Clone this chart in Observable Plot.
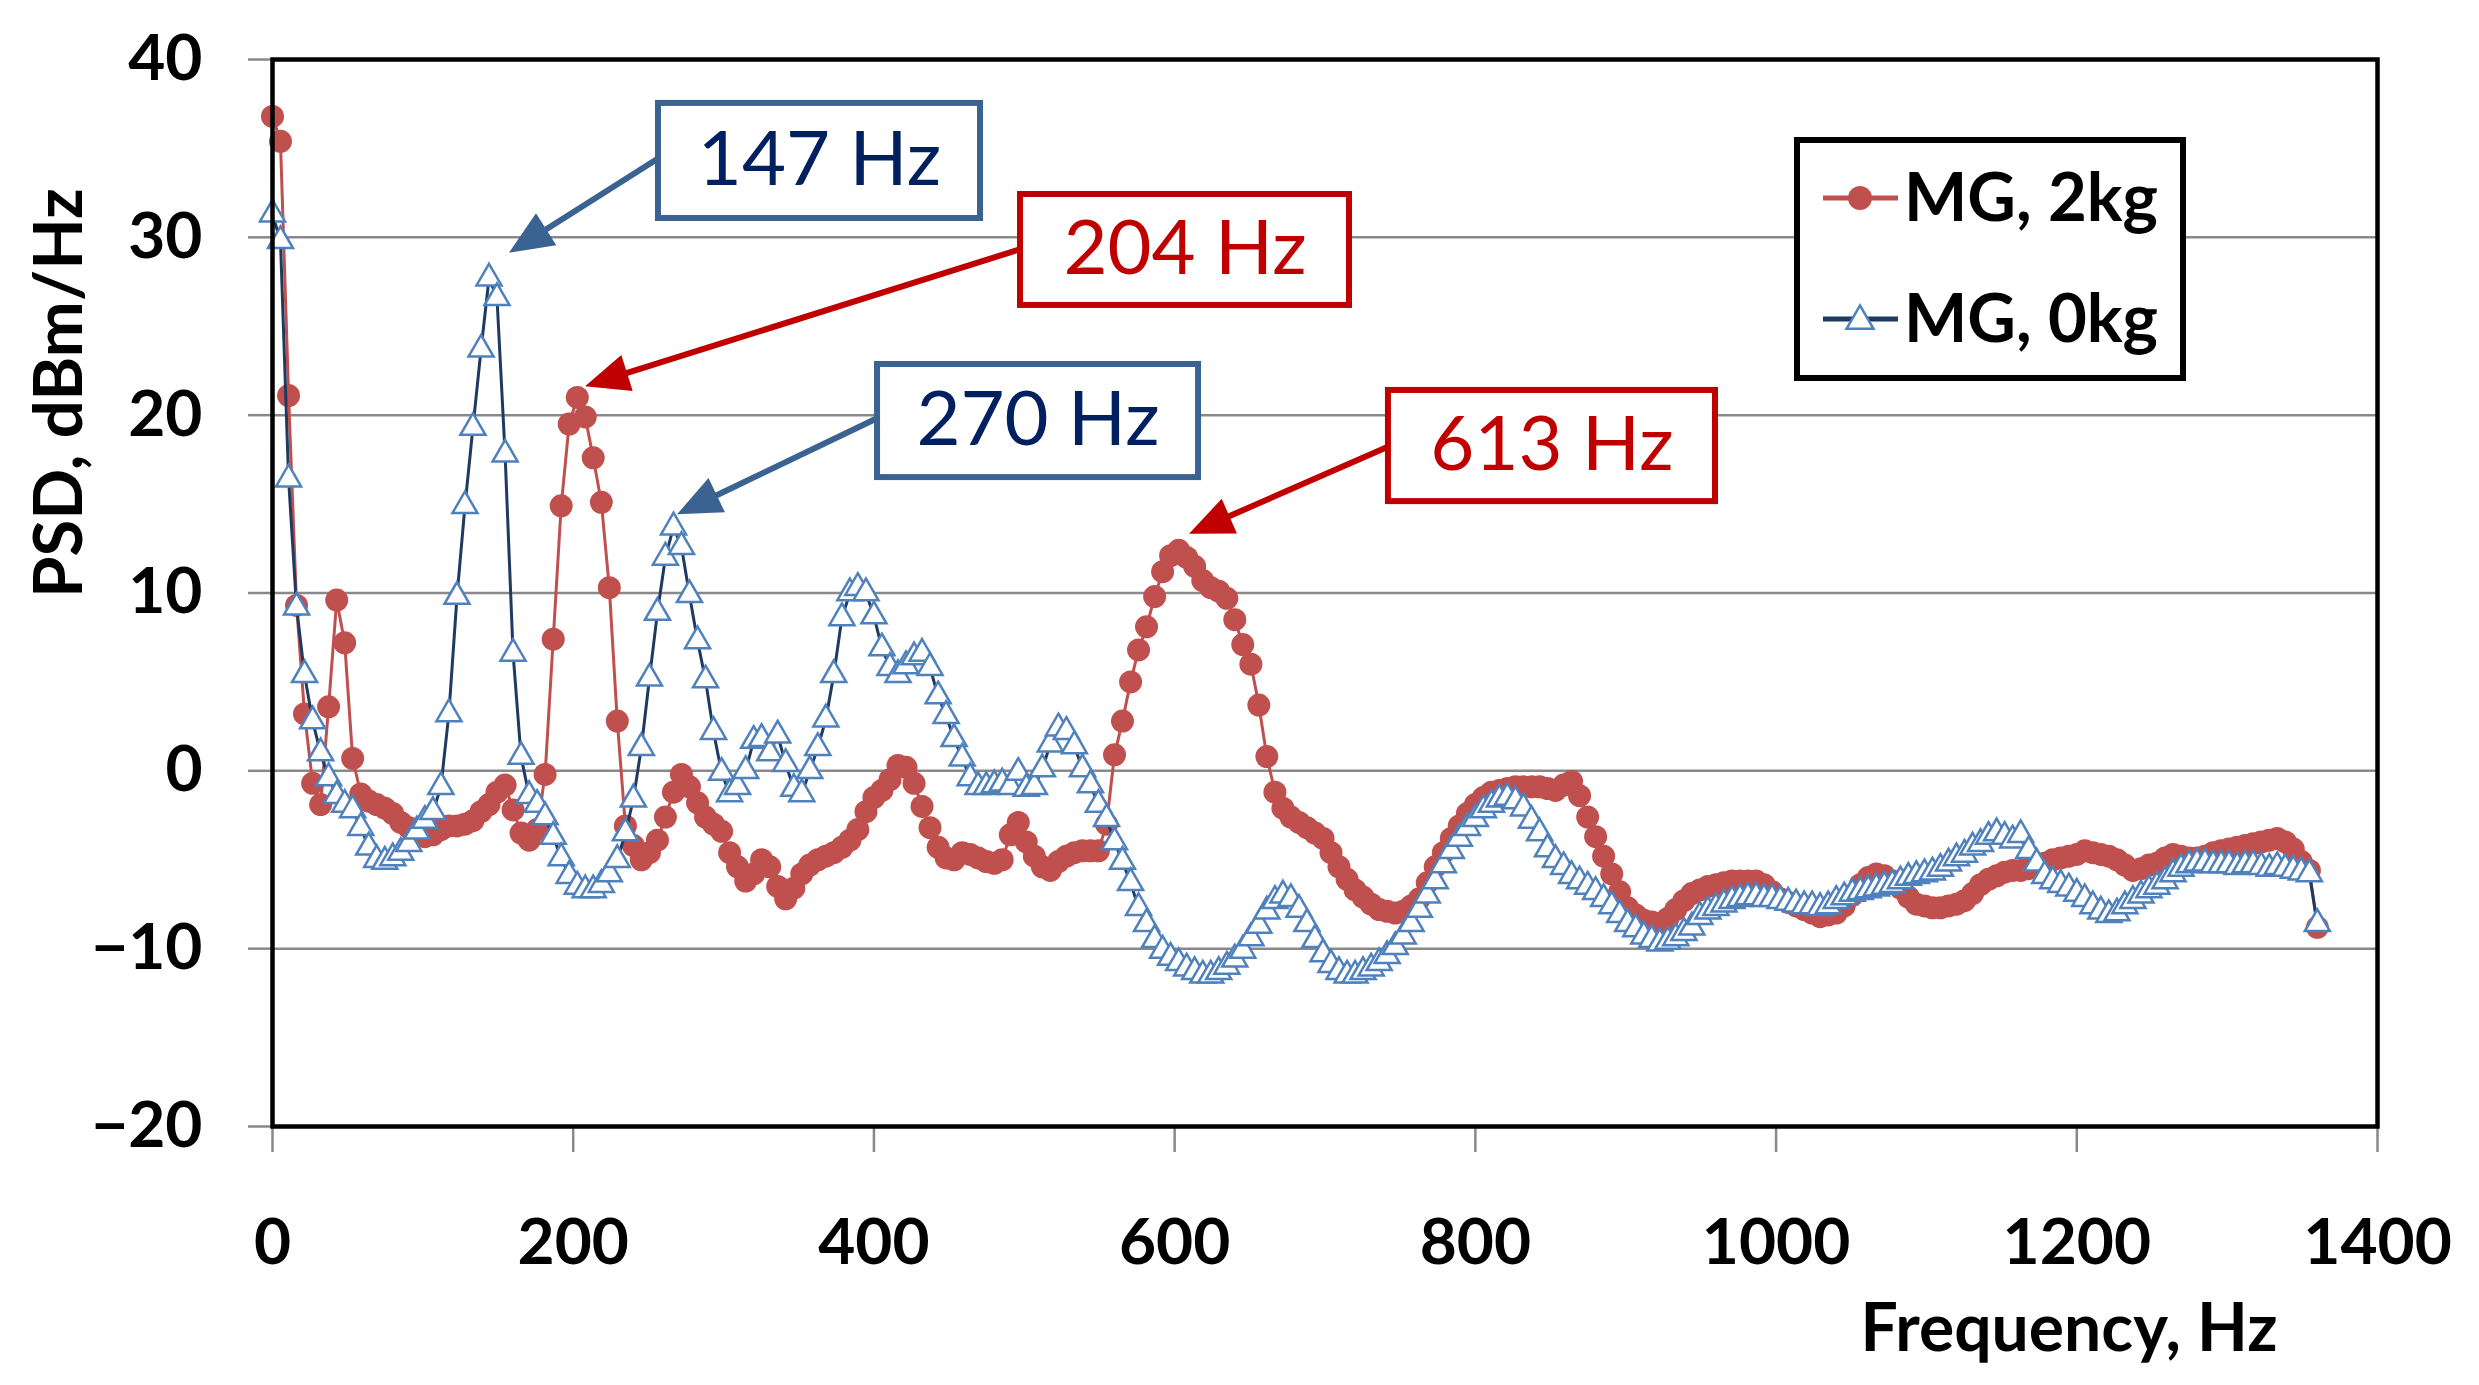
<!DOCTYPE html>
<html>
<head>
<meta charset="utf-8">
<script src="https://cdn.jsdelivr.net/npm/d3@7"></script>
<script src="https://cdn.jsdelivr.net/npm/@observablehq/plot@0.6"></script>
<style>
html, body { margin: 0; padding: 0; background: #fff; }
#wrap { position: relative; width: 2479px; height: 1385px; overflow: hidden; }
#legend { position: absolute; left: 1794px; top: 137px; }
</style>
</head>
<body>
<div id="wrap"></div>
<script>
// ---------------- data ----------------
const freq = [
0,5.3,10.7,16,21.3,26.7,32,37.3,42.7,48,53.3,58.7,64,69.3,74.7,80,85.3,90.7,96,101.3,106.7,
112,117.3,122.7,128,133.3,138.7,144,149.3,154.7,160,165.3,170.7,176,181.3,186.7,192,197.3,202.7,
208,213.3,218.7,224,229.3,234.7,240,245.3,250.7,256,261.3,266.7,272,277.3,282.7,288,293.3,298.7,
304,309.3,314.7,320,325.3,330.7,336,341.3,346.7,352,357.3,362.7,368,373.3,378.7,384,389.3,394.7,
400,405.3,410.7,416,421.3,426.7,432,437.3,442.7,448,453.3,458.7,464,469.3,474.7,480,485.3,490.7,
496,501.3,506.7,512,517.3,522.7,528,533.3,538.7,544,549.3,554.7,560,565.3,570.7,576,581.3,586.7,
592,597.3,602.7,608,613.3,618.7,624,629.3,634.7,640,645.3,650.7,656,661.3,666.7,672,677.3,682.7,
688,693.3,698.7,704,709.3,714.7,720,725.3,730.7,736,741.3,746.7,752,757.3,762.7,768,773.3,778.7,
784,789.3,794.7,800,805.3,810.7,816,821.3,826.7,832,837.3,842.7,848,853.3,858.7,864,869.3,874.7,
880,885.3,890.7,896,901.3,906.7,912,917.3,922.7,928,933.3,938.7,944,949.3,954.7,960,965.3,970.7,
976,981.3,986.7,992,997.3,1002.7,1008,1013.3,1018.7,1024,1029.3,1034.7,1040,1045.3,1050.7,
1056,1061.3,1066.7,1072,1077.3,1082.7,1088,1093.3,1098.7,1104,1109.3,1114.7,1120,1125.3,1130.7,
1136,1141.3,1146.7,1152,1157.3,1162.7,1168,1173.3,1178.7,1184,1189.3,1194.7,1200,1205.3,1210.7,
1216,1221.3,1226.7,1232,1237.3,1242.7,1248,1253.3,1258.7,1264,1269.3,1274.7,1280,1285.3,1290.7,
1296,1301.3,1306.7,1312,1317.3,1322.7,1328,1333.3,1338.7,1344,1349.3,1354.7,1360
];

// MG, 2kg (red dots)
const psd2kg = [
36.8,35.4,21.1,9.3,3.2,-0.7,-1.9,3.6,9.6,7.2,
0.7,-1.3,-1.7,-1.9,-2.1,-2.4,-2.9,-3.2,-3.5,-3.7,
-3.6,-3.3,-3.1,-3.1,-3.0,-2.8,-2.3,-1.9,-1.2,-0.8,
-2.2,-3.5,-3.9,-3.3,-0.2,7.4,14.9,19.5,21.0,19.9,
17.6,15.1,10.3,2.8,-3.1,-4.2,-5.0,-4.6,-3.9,-2.6,
-1.2,-0.2,-0.9,-1.8,-2.6,-3.0,-3.4,-4.6,-5.4,-6.2,
-5.8,-5.0,-5.4,-6.5,-7.2,-6.6,-5.8,-5.3,-5.0,-4.8,
-4.6,-4.3,-3.9,-3.3,-2.3,-1.5,-1.1,-0.5,0.3,0.2,
-0.7,-2.0,-3.2,-4.3,-4.9,-5.0,-4.6,-4.7,-4.9,-5.1,
-5.2,-5.0,-3.6,-2.9,-4.0,-4.8,-5.4,-5.6,-5.1,-4.8,
-4.6,-4.5,-4.5,-4.5,-3.0,0.9,2.8,5.0,6.8,8.1,
9.8,11.2,12.1,12.4,12.0,11.5,10.7,10.3,10.1,9.7,
8.5,7.1,6.0,3.7,0.8,-1.2,-2.1,-2.6,-2.9,-3.2,
-3.5,-3.8,-4.6,-5.4,-6.1,-6.7,-7.1,-7.5,-7.8,-7.9,
-8.0,-7.9,-7.6,-7.2,-6.3,-5.4,-4.6,-3.8,-3.1,-2.4,
-1.9,-1.5,-1.2,-1.1,-1.0,-0.9,-0.9,-0.9,-0.9,-1.0,
-1.1,-0.8,-0.6,-1.4,-2.6,-3.7,-4.8,-5.8,-6.8,-7.7,
-8.1,-8.4,-8.5,-8.6,-8.3,-7.8,-7.3,-6.9,-6.7,-6.5,
-6.4,-6.3,-6.2,-6.2,-6.2,-6.2,-6.4,-6.8,-7.2,-7.4,
-7.6,-7.8,-8.0,-8.2,-8.1,-8.0,-7.6,-7.0,-6.4,-6.0,
-5.8,-5.9,-6.2,-6.6,-7.1,-7.5,-7.6,-7.7,-7.7,-7.6,
-7.5,-7.3,-6.9,-6.4,-6.1,-5.9,-5.7,-5.6,-5.6,-5.5,
-5.3,-5.2,-5.0,-4.9,-4.8,-4.7,-4.5,-4.6,-4.7,-4.8,
-5.0,-5.3,-5.6,-5.5,-5.3,-5.2,-4.9,-4.7,-4.8,-4.9,
-4.9,-4.8,-4.6,-4.5,-4.4,-4.3,-4.2,-4.1,-4.0,-3.9,
-3.8,-4.0,-4.4,-5.1,-5.6,-8.8
];

// MG, 0kg (open triangles)
const psd0kg = [
31.3,29.8,16.4,9.2,5.4,2.8,1.0,-0.4,-1.4,-1.9,
-2.2,-3.2,-4.3,-5.0,-5.1,-4.9,-4.6,-4.1,-3.4,-2.8,
-2.3,-0.9,3.2,9.8,14.9,19.3,23.7,27.7,26.6,17.8,
6.6,0.8,-1.4,-1.9,-2.6,-3.7,-4.9,-5.9,-6.5,-6.7,
-6.7,-6.4,-5.8,-5.0,-3.5,-1.6,1.3,5.2,8.9,12.0,
13.7,12.6,9.9,7.3,5.1,2.2,-0.1,-1.3,-0.9,0.0,
1.7,1.8,1.0,2.0,0.4,-1.0,-1.3,0.0,1.3,2.9,
5.4,8.6,10.0,10.3,10.0,8.7,6.9,5.8,5.4,5.9,
6.4,6.6,5.8,4.2,3.1,1.8,0.7,-0.4,-0.9,-0.9,
-0.8,-0.7,-0.9,-0.1,-1.0,-0.9,0.1,1.5,2.4,2.2,
1.4,0.1,-0.8,-1.9,-2.7,-4.0,-5.1,-6.3,-7.7,-8.6,
-9.5,-10.1,-10.5,-10.8,-11.1,-11.3,-11.5,-11.5,-11.3,-11.0,
-10.6,-10.1,-9.4,-8.7,-7.9,-7.3,-7.0,-7.2,-7.8,-8.6,
-9.5,-10.3,-10.9,-11.3,-11.5,-11.5,-11.3,-11.1,-10.8,-10.4,
-9.9,-9.3,-8.6,-7.8,-7.0,-6.2,-5.3,-4.5,-3.8,-3.2,
-2.7,-2.2,-1.9,-1.6,-1.5,-1.7,-2.1,-2.8,-3.5,-4.4,
-5.0,-5.4,-5.9,-6.2,-6.5,-6.8,-7.2,-7.6,-8.1,-8.6,
-8.9,-9.3,-9.5,-9.7,-9.6,-9.4,-9.1,-8.8,-8.2,-7.9,
-7.7,-7.5,-7.3,-7.2,-7.1,-7.1,-7.2,-7.2,-7.3,-7.4,
-7.5,-7.6,-7.6,-7.7,-7.6,-7.3,-7.1,-6.9,-6.8,-6.7,
-6.6,-6.5,-6.4,-6.2,-6.0,-5.9,-5.8,-5.7,-5.5,-5.2,
-4.9,-4.7,-4.3,-4.1,-3.7,-3.5,-3.7,-3.9,-3.6,-4.5,
-5.2,-5.9,-6.2,-6.4,-6.6,-6.9,-7.2,-7.6,-7.9,-8.1,
-8.0,-7.6,-7.3,-7.0,-6.7,-6.5,-6.2,-5.8,-5.5,-5.3,
-5.2,-5.2,-5.3,-5.3,-5.3,-5.4,-5.3,-5.3,-5.4,-5.5,
-5.4,-5.5,-5.6,-5.7,-5.8,-8.6
];

const seriesNames = ["MG, 2kg", "MG, 0kg"];
const xTicks = [0, 200, 400, 600, 800, 1000, 1200, 1400];
const yTicks = [-20, -10, 0, 10, 20, 30, 40];
const xTitle = "Frequency, Hz";
const yTitle = "PSD, dBm/Hz";

// peak annotations (data units)
const annoText  = ["147 Hz", "204 Hz", "270 Hz", "613 Hz"];
const annoKind  = ["blue", "red", "blue", "red"];
const annoTipF  = [157.6, 208.2, 269.4, 609.9];
const annoTipV  = [29.1, 21.6, 14.4, 13.3];
const annoFromF = [256.7, 497.5, 402.4, 742.2];
const annoFromV = [34.4, 29.3, 19.8, 18.2];
const annoBoxF1 = [256.7, 497.5, 402.4, 742.2];
const annoBoxF2 = [470.9, 716.3, 615.9, 959.7];
const annoBoxV1 = [31.06, 26.17, 16.49, 15.14];
const annoBoxV2 = [37.53, 32.41, 22.85, 21.39];

// ---------------- styles ----------------
const RED = "#C0504D";
const NAVY = "#1F3A60";
const LBLUE = "#4F81BD";
const GRID = "#898989";
const BOX_BLUE = "#3B6391";
const TXT_BLUE = "#002060";
const BOX_RED = "#C00000";
const FONT = "Lato, 'Open Sans', sans-serif";

const rows2 = freq.map((f, i) => ({f, v: psd2kg[i]}));
const rows0 = freq.map((f, i) => ({f, v: psd0kg[i]}));
const annos = annoText.map((t, i) => ({
  t,
  stroke: annoKind[i] === "red" ? BOX_RED : BOX_BLUE,
  fill: annoKind[i] === "red" ? BOX_RED : TXT_BLUE,
  tipF: annoTipF[i], tipV: annoTipV[i], fromF: annoFromF[i], fromV: annoFromV[i],
  f1: annoBoxF1[i], f2: annoBoxF2[i], v1: annoBoxV1[i], v2: annoBoxV2[i]
}));

const fmt = d => d < 0 ? "\u2212" + Math.abs(d) : String(d);

const plot = Plot.plot({
  width: 2479,
  height: 1385,
  marginLeft: 272,
  marginRight: 102,
  marginTop: 59,
  marginBottom: 259,
  style: {fontFamily: FONT, background: "white", color: "black"},
  color: {type: "identity"},
  x: {domain: [0, 1400], label: null},
  y: {domain: [-20, 40], label: null},
  marks: [
    Plot.gridY(yTicks, {stroke: GRID, strokeOpacity: 1, strokeWidth: 2.5}),
    Plot.axisY({ticks: yTicks, tickSize: 24, tickPadding: 46, stroke: GRID, strokeWidth: 2.5,
      fill: "black", fontSize: 64, fontWeight: "bold", tickFormat: fmt, label: null}),
    Plot.axisX({ticks: xTicks, tickSize: 26, tickPadding: 66, stroke: GRID, strokeWidth: 2.5,
      fill: "black", fontSize: 64, fontWeight: "bold", tickFormat: d => String(d), label: null}),
    Plot.text([xTitle], {text: d => d, frameAnchor: "bottom-right", textAnchor: "end", lineAnchor: "middle",
      dx: -100, dy: 203, fontSize: 66, fontWeight: "bold", fill: "black"}),
    Plot.text([yTitle], {text: d => d, frameAnchor: "left", textAnchor: "middle", lineAnchor: "middle", rotate: -90,
      dx: -212, dy: -200, fontSize: 67, fontWeight: "bold", fill: "black"}),
    // series
    Plot.line(rows2, {x: "f", y: "v", stroke: RED, strokeWidth: 3}),
    Plot.dot(rows2, {x: "f", y: "v", r: 11.5, fill: RED, stroke: null}),
    Plot.line(rows0, {x: "f", y: "v", stroke: NAVY, strokeWidth: 3}),
    Plot.dot(rows0, {x: "f", y: "v", symbol: "triangle", r: 9.3, fill: "white", stroke: LBLUE, strokeWidth: 2.5}),
    Plot.frame({stroke: "black", strokeWidth: 4.5}),
    // annotation boxes
    Plot.rect(annos, {x1: "f1", x2: "f2", y1: "v1", y2: "v2", fill: "white", stroke: d => d.stroke, strokeWidth: 6}),
    Plot.text(annos, {x: d => (d.f1 + d.f2) / 2, y: d => (d.v1 + d.v2) / 2, text: "t",
      fill: d => d.fill, fontSize: 76, fontWeight: "normal"})
  ]
});

document.getElementById("wrap").appendChild(plot);

// arrows (shaft + filled head), positioned through Plot's scales
const sx = plot.scale("x"), sy = plot.scale("y");
const svg = d3.select(plot);
const g = svg.append("g");
annos.forEach(a => {
  const x1 = sx.apply(a.fromF), y1 = sy.apply(a.fromV);
  const x2 = sx.apply(a.tipF), y2 = sy.apply(a.tipV);
  const dx = x2 - x1, dy = y2 - y1, L = Math.hypot(dx, dy);
  const ux = dx / L, uy = dy / L;
  const hl = 44, hw = 19;
  const bx = x2 - ux * hl, by = y2 - uy * hl;
  g.append("line").attr("x1", x1).attr("y1", y1).attr("x2", bx + ux * 4).attr("y2", by + uy * 4)
    .attr("stroke", a.stroke).attr("stroke-width", 6);
  g.append("polygon")
    .attr("points", `${x2},${y2} ${bx - uy * hw},${by + ux * hw} ${bx + uy * hw},${by - ux * hw}`)
    .attr("fill", a.stroke);
});

// legend
const lg = d3.select("#wrap").append("svg").attr("id", "legend")
  .attr("width", 392).attr("height", 244);
lg.append("rect").attr("x", 3).attr("y", 3).attr("width", 386).attr("height", 238)
  .attr("fill", "white").attr("stroke", "black").attr("stroke-width", 6);
const entries = [
  {name: seriesNames[0], y: 61, line: RED, kind: "dot"},
  {name: seriesNames[1], y: 182, line: NAVY, kind: "tri"}
];
entries.forEach(e => {
  lg.append("line").attr("x1", 29).attr("x2", 104).attr("y1", e.y).attr("y2", e.y)
    .attr("stroke", e.line).attr("stroke-width", 5);
  if (e.kind === "dot") {
    lg.append("circle").attr("cx", 66).attr("cy", e.y).attr("r", 12).attr("fill", RED);
  } else {
    lg.append("path").attr("transform", `translate(66,${e.y + 2})`)
      .attr("d", d3.symbol(d3.symbolTriangle, Math.PI * 100)())
      .attr("fill", "white").attr("stroke", LBLUE).attr("stroke-width", 2.5);
  }
  lg.append("text").attr("x", 110).attr("y", e.y + 23).text(e.name)
    .attr("font-family", FONT).attr("font-weight", "bold").attr("font-size", 67).attr("fill", "black");
});
</script>
</body>
</html>
